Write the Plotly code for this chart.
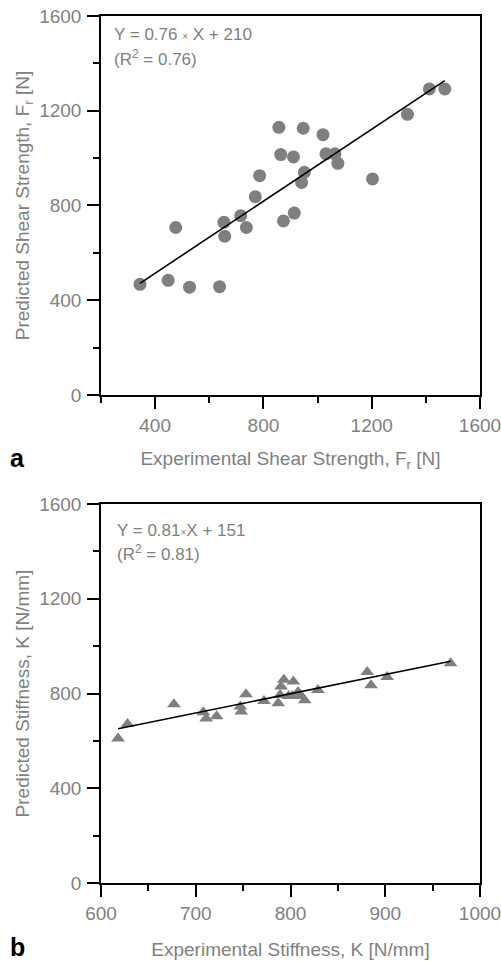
import plotly.graph_objects as go

# ---- Data: panel a (shear strength, N) ----
shear_exp = [344, 448, 476, 527, 638, 654, 657, 716, 737, 770, 786, 857, 864, 874,
             911, 914, 947, 951, 941, 1020, 1031, 1064, 1075, 1203, 1332, 1413, 1470]
shear_pred = [467, 484, 707, 455, 457, 729, 670, 757, 707, 837, 926, 1130, 1015, 735,
              1005, 768, 1126, 940, 897, 1099, 1018, 1018, 978, 912, 1185, 1292, 1292]
shear_fit = (0.76, 210)

# ---- Data: panel b (stiffness, N/mm) ----
stiff_exp = [618, 628, 677, 708, 711, 722, 747, 748, 753, 772, 787, 789, 790, 793,
             798, 803, 802, 808, 811, 815, 829, 881, 885, 902, 969]
stiff_pred = [610, 671, 755, 721, 695, 704, 745, 724, 797, 768, 759, 794, 830, 858,
              790, 851, 790, 806, 790, 772, 815, 891, 835, 870, 928]
stiff_fit = (0.81, 151)

GRAY_TXT = "#808080"
GRAY_MK = "#7f7f7f"
FONT = "Liberation Sans, Arial, sans-serif"

fig = go.Figure()

# panel a
fig.add_trace(go.Scatter(x=shear_exp, y=shear_pred, mode="markers",
                         marker=dict(symbol="circle", size=13, color=GRAY_MK),
                         xaxis="x", yaxis="y", showlegend=False))
lx = [min(shear_exp), max(shear_exp)]
fig.add_trace(go.Scatter(x=lx, y=[shear_fit[0] * v + shear_fit[1] for v in lx],
                         mode="lines", line=dict(color="black", width=1.6),
                         xaxis="x", yaxis="y", showlegend=False))

# panel b
fig.add_trace(go.Scatter(x=stiff_exp, y=stiff_pred, mode="markers",
                         marker=dict(symbol="triangle-up", size=12, color=GRAY_MK),
                         xaxis="x2", yaxis="y2", showlegend=False))
lx2 = [min(stiff_exp), max(stiff_exp)]
fig.add_trace(go.Scatter(x=lx2, y=[stiff_fit[0] * v + stiff_fit[1] for v in lx2],
                         mode="lines", line=dict(color="black", width=1.6),
                         xaxis="x2", yaxis="y2", showlegend=False))

TICK_SIZE = 19
TITLE_SIZE = 19

def axis_common(**kw):
    d = dict(showgrid=False, zeroline=False, showline=True, linecolor="black",
             linewidth=1.5, mirror=True, ticks="outside", ticklen=12, tickwidth=1.5,
             tickcolor="black", tickfont=dict(family=FONT, size=TICK_SIZE, color=GRAY_TXT),
             title_font=dict(family=FONT, size=TITLE_SIZE, color=GRAY_TXT), automargin=False,
             ticklabeloverflow="allow")
    d.update(kw)
    return d

minor_y = dict(tickvals=[200, 600, 1000, 1400], ticks="outside", ticklen=6,
               tickwidth=1.5, tickcolor="black")

fig.update_layout(
    width=501, height=961,
    margin=dict(l=101, r=21, t=16, b=78),
    plot_bgcolor="white", paper_bgcolor="white",
    font=dict(family=FONT, color=GRAY_TXT),
    xaxis=axis_common(domain=[0, 1], anchor="y", range=[200, 1600],
                      tickvals=[400, 800, 1200, 1600],
                      minor=dict(tickvals=[200, 600, 1000, 1400], ticks="outside", ticklen=6,
                                 tickwidth=1.5, tickcolor="black"),
                      title=dict(text="Experimental Shear Strength, F<sub>r</sub> [N]", standoff=17)),
    yaxis=axis_common(domain=[0.5629, 1], anchor="x", range=[0, 1600],
                      tickvals=[0, 400, 800, 1200, 1600], ticklabelstandoff=2,
                      minor=minor_y,
                      title=dict(text="Predicted Shear Strength, F<sub>r</sub> [N]", standoff=5)),
    xaxis2=axis_common(domain=[0, 1], anchor="y2", range=[600, 1000],
                       tickvals=[600, 700, 800, 900, 1000],
                       minor=dict(tickvals=[650, 750, 850, 950], ticks="outside", ticklen=6,
                                  tickwidth=1.5, tickcolor="black"),
                       title=dict(text="Experimental Stiffness, K [N/mm]", standoff=20)),
    yaxis2=axis_common(domain=[0, 0.4371], anchor="x2", range=[0, 1600],
                       tickvals=[0, 400, 800, 1200, 1600], ticklabelstandoff=2,
                       minor=minor_y,
                       title=dict(text="Predicted Stiffness, K [N/mm]", standoff=5)),
)

ann_font = dict(family=FONT, size=17, color=GRAY_TXT)
fig.add_annotation(xref="x domain", yref="y domain", x=0.03, y=0.950,
                   xanchor="left", yanchor="middle", showarrow=False, font=ann_font,
                   text="Y = 0.76 <span style='font-size:10px'>×</span> X + 210")
fig.add_annotation(xref="x domain", yref="y domain", x=0.03, y=0.889,
                   xanchor="left", yanchor="middle", showarrow=False, font=ann_font,
                   text="(R<sup>2</sup> = 0.76)")
fig.add_annotation(xref="x2 domain", yref="y2 domain", x=0.036, y=0.9314,
                   xanchor="left", yanchor="middle", showarrow=False, font=ann_font,
                   text="Y = 0.81<span style='font-size:10px'>×</span>X + 151")
fig.add_annotation(xref="x2 domain", yref="y2 domain", x=0.036, y=0.8707,
                   xanchor="left", yanchor="middle", showarrow=False, font=ann_font,
                   text="(R<sup>2</sup> = 0.81)")

lab_font = dict(family=FONT, size=25, color="black")
fig.add_annotation(xref="paper", yref="paper", x=-0.2216, y=0.4902, xanchor="center",
                   yanchor="middle", showarrow=False, font=lab_font, text="<b>a</b>")
fig.add_annotation(xref="paper", yref="paper", x=-0.2216, y=-0.0738, xanchor="center",
                   yanchor="middle", showarrow=False, font=lab_font, text="<b>b</b>")

fig.write_html("out.html", config={"displayModeBar": False},
               post_script="document.body.style.margin='0';document.body.style.overflow='hidden';")
